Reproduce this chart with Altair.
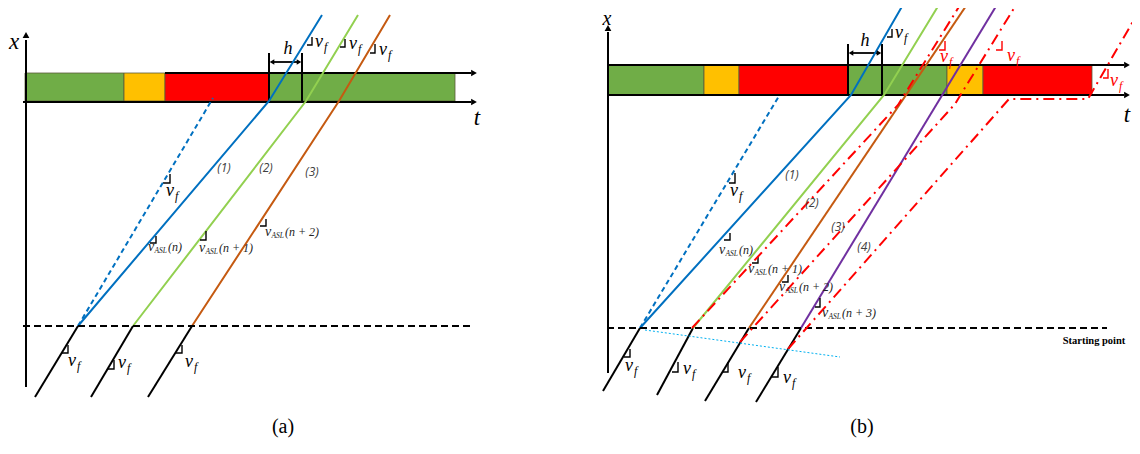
import altair as alt
import pandas as pd

BLUE, GREEN, ORANGE, PURPLE = "#0070C0", "#92D050", "#C55A11", "#7030A0"
RED, SKY, BLACK = "#FF0000", "#00B0F0", "#000000"
GRN, YEL = "#70AD47", "#FFC000"

# ---------------- signal phase bars ----------------
bar_x0 = [25, 124, 165, 269, 608, 704, 739, 848, 947, 983]
bar_x1 = [124, 165, 269, 455, 704, 739, 848, 947, 983, 1092]
bar_y0 = [73, 73, 73, 73, 65, 65, 65, 65, 65, 65]
bar_y1 = [101, 101, 101, 101, 95, 95, 95, 95, 95, 95]
bar_col = [GRN, YEL, RED, GRN, GRN, YEL, RED, GRN, YEL, RED]

# ---------------- polylines ----------------
path_x = [
    [26, 26], [608, 608],                          # x axes
    [165, 471], [23, 471], [608, 1124], [608, 1124],  # t axes
    [269, 269], [302, 302], [848, 848], [882, 882],  # h brackets
    [273, 298], [852, 878],                          # h arrows
    [35, 78], [91, 133], [148, 192],                 # free-flow (a)
    [603, 640], [657, 693], [705, 749], [756, 801],  # free-flow (b)
    [78, 269, 322], [133, 306, 358], [192, 339, 390],  # (a) trajectories
    [640, 851, 904], [693, 884, 940], [749, 968], [801, 998],  # (b) trajectories
    [78, 213], [640, 779],                           # dashed blue
    [23, 471], [607, 1107],                          # starting lines
    [692, 898, 960], [740, 955, 1016], [788, 1009, 1088, 1135],  # red dash-dot
    [645, 840],                                      # sky dotted
]
path_y = [
    [387, 40], [373, 32],
    [73, 73], [102, 102], [65, 65], [95, 95],
    [53, 101], [53, 101], [44, 95], [44, 95],
    [62, 62], [53, 53],
    [397, 326], [397, 326], [397, 326],
    [391, 328], [395, 328], [401, 328], [402, 328],
    [326, 101, 15], [326, 101, 15], [326, 101, 15],
    [328, 95, 3], [328, 95, 3], [328, 3], [328, 3],
    [326, 98], [328, 96],
    [326, 326], [328, 328],
    [328, 105, 5], [342, 104, 5], [349, 99, 99, 18],
    [330, 357],
]
path_style = (["solid"] * 26 + ["dash"] * 2 + ["sdash"] * 2 + ["dashdot"] * 3 + ["dot"])
path_col = ([BLACK] * 19 + [BLUE, GREEN, ORANGE, BLUE, GREEN, ORANGE, PURPLE]
            + [BLUE, BLUE, BLACK, BLACK, RED, RED, RED, SKY])
path_w = ([2] * 10 + [1.8] * 2 + [2] * 7 + [2] * 7 + [2] * 2 + [2] * 2 + [2] * 3 + [1])

# slope markers (corner x, corner y, leg width, leg height, colour)
br_x = [170, 156, 206, 266, 68, 114, 182, 312, 345, 375,
        735, 730, 758, 788, 820, 630, 678, 728, 778, 892, 945, 1002, 1108]
br_y = [183, 243, 240, 226, 353, 369, 353, 45, 47, 53,
        183, 240, 263, 282, 307, 357, 372, 372, 377, 37, 50, 50, 78]
br_w = [7, 6, 6, 6, 6, 6, 6, 5, 5, 5,
        6, 6, 6, 6, 5, 6, 6, 6, 6, 5, 6, 6, 5]
br_h = [9, 7, 9, 7, 8, 9, 8, 8, 8, 9,
        10, 7, 7, 7, 9, 8, 10, 10, 10, 8, 9, 9, 9]
br_col = [BLACK] * 20 + [RED] * 3

# arrow heads
head_x = [26, 608, 474, 474, 1127, 1127, 272, 299, 851, 879]
head_y = [35, 28, 73, 102, 65, 95, 62, 62, 53, 53]
head_shape = ["triangle-up", "triangle-up", "triangle-right", "triangle-right",
              "triangle-right", "triangle-right", "triangle-left", "triangle-right",
              "triangle-left", "triangle-right"]
head_size = [45, 45, 45, 45, 45, 45, 28, 28, 28, 28]

# ---------------- text ----------------
sym_x = [14, 477, 607, 1127, 288, 865]
sym_y = [42, 118, 19, 115, 49, 41]
sym_t = ["x", "t", "x", "t", "h", "h"]
sym_s = [23, 23, 20, 23, 18, 18]

vf_x = [315, 349, 379, 68, 118, 185, 166, 895, 625, 683, 738, 783, 730, 940, 1007, 1110]
vf_y = [42, 44, 50, 361, 363, 362, 191, 33, 366, 369, 373, 378, 191, 57, 56, 81]
vf_c = [BLACK] * 13 + [RED] * 3

asl_x = [148, 199, 265, 719, 748, 779, 822]
asl_y = [247, 248, 232, 250, 269, 287, 313]
asl_t = ["(n)", "(n + 1)", "(n + 2)", "(n)", "(n + 1)", "(n + 2)", "(n + 3)"]

num_x = [224, 266, 312, 792, 812, 838, 864]
num_y = [168, 168, 172, 175, 203, 227, 247]
num_t = ["(1)", "(2)", "(3)", "(1)", "(2)", "(3)", "(4)"]

cap_x = [283, 862]
cap_y = [427, 427]
cap_t = ["(a)", "(b)"]

# ---------------- tables ----------------
bars = pd.DataFrame({"x0": bar_x0, "x1": bar_x1, "y0": bar_y0, "y1": bar_y1, "c": bar_col})

rows = []
for i, (xs_, ys_) in enumerate(zip(path_x, path_y)):
    for k, (xx, yy) in enumerate(zip(xs_, ys_)):
        rows.append({"id": f"p{i}", "ord": k, "x": xx, "y": yy, "style": path_style[i],
                     "c": path_col[i], "w": path_w[i]})
for i in range(len(br_x)):
    pts = [(br_x[i], br_y[i] - br_h[i]), (br_x[i], br_y[i]), (br_x[i] - br_w[i], br_y[i])]
    for k, (xx, yy) in enumerate(pts):
        rows.append({"id": f"b{i}", "ord": k, "x": xx, "y": yy, "style": "solid",
                     "c": br_col[i], "w": 1.4})
lines = pd.DataFrame(rows)

heads = pd.DataFrame({"x": head_x, "y": head_y, "shape": head_shape, "s": head_size})

math_left = []
for xx, yy, cc in zip(vf_x, vf_y, vf_c):
    math_left.append({"x": xx, "y": yy, "t": "v", "s": 18, "c": cc})
    math_left.append({"x": xx + 9, "y": yy + 5, "t": "f", "s": 12, "c": cc})
for xx, yy, tt in zip(asl_x, asl_y, asl_t):
    math_left.append({"x": xx, "y": yy, "t": "v", "s": 14, "c": "#222222"})
    math_left.append({"x": xx + 6.5, "y": yy + 4, "t": "ASL", "s": 7.5, "c": "#222222"})
    math_left.append({"x": xx + 20, "y": yy, "t": tt, "s": 12, "c": "#222222"})
math_left = pd.DataFrame(math_left)
syms = pd.DataFrame({"x": sym_x, "y": sym_y, "t": sym_t, "s": sym_s})
nums = pd.DataFrame({"x": num_x, "y": num_y, "t": num_t})
caps = pd.DataFrame({"x": cap_x, "y": cap_y, "t": cap_t})
start = pd.DataFrame({"x": [1094], "y": [341], "t": ["Starting point"]})

# ---------------- encodings ----------------
xs = alt.Scale(domain=[8, 1132], nice=False, zero=False)
ys = alt.Scale(domain=[8, 440], nice=False, zero=False, reverse=True)
X = alt.X("x:Q", scale=xs, axis=None)
Y = alt.Y("y:Q", scale=ys, axis=None)

rects = alt.Chart(bars).mark_rect(stroke="#5b5b3b", strokeWidth=0.8).encode(
    x=alt.X("x0:Q", scale=xs, axis=None), x2="x1:Q",
    y=alt.Y("y0:Q", scale=ys, axis=None), y2="y1:Q",
    color=alt.Color("c:N", scale=None))

def line_layer(style, dash=None):
    kw = dict(strokeCap="butt", strokeJoin="miter")
    if dash:
        kw["strokeDash"] = dash
    return alt.Chart(lines).transform_filter(alt.datum.style == style).mark_line(**kw).encode(
        x=X, y=Y, detail="id:N", order="ord:Q",
        color=alt.Color("c:N", scale=None),
        strokeWidth=alt.StrokeWidth("w:Q", scale=None))

solid = line_layer("solid")
dash = line_layer("dash", [5, 3.5])
sdash = line_layer("sdash", [7, 4])
dashdot = line_layer("dashdot", [11, 5, 2, 5])
dot = line_layer("dot", [2, 2])

arrow = alt.Chart(heads).mark_point(filled=True, opacity=1, color=BLACK).encode(
    x=X, y=Y, shape=alt.Shape("shape:N", scale=None), size=alt.Size("s:Q", scale=None))

t_math = alt.Chart(math_left).mark_text(font="Liberation Serif", fontStyle="italic",
                                        align="left", baseline="middle").encode(
    x=X, y=Y, text="t:N", size=alt.Size("s:Q", scale=None), color=alt.Color("c:N", scale=None))
t_sym = alt.Chart(syms).mark_text(font="Liberation Serif", fontStyle="italic",
                                  align="center", baseline="middle", color=BLACK).encode(
    x=X, y=Y, text="t:N", size=alt.Size("s:Q", scale=None))
t_num = alt.Chart(nums).mark_text(font="Open Sans", fontStyle="italic", fontSize=12,
                                  align="center", baseline="middle", color="#404040").encode(
    x=X, y=Y, text="t:N")
t_cap = alt.Chart(caps).mark_text(font="Liberation Serif", fontSize=20,
                                  align="center", baseline="middle", color=BLACK).encode(
    x=X, y=Y, text="t:N")
t_start = alt.Chart(start).mark_text(font="Liberation Serif", fontWeight="bold", fontSize=10.5,
                                     align="center", baseline="middle", color=BLACK).encode(
    x=X, y=Y, text="t:N")

chart = alt.layer(rects, solid, dash, sdash, dashdot, dot, arrow,
                  t_math, t_sym, t_num, t_cap, t_start).properties(
    width=1124, height=432, padding=0,
    autosize=alt.AutoSizeParams(type="none"),
    background="white",
).configure_view(stroke=None)

chart.save("out.html", embed_options={"renderer": "svg", "actions": False})
